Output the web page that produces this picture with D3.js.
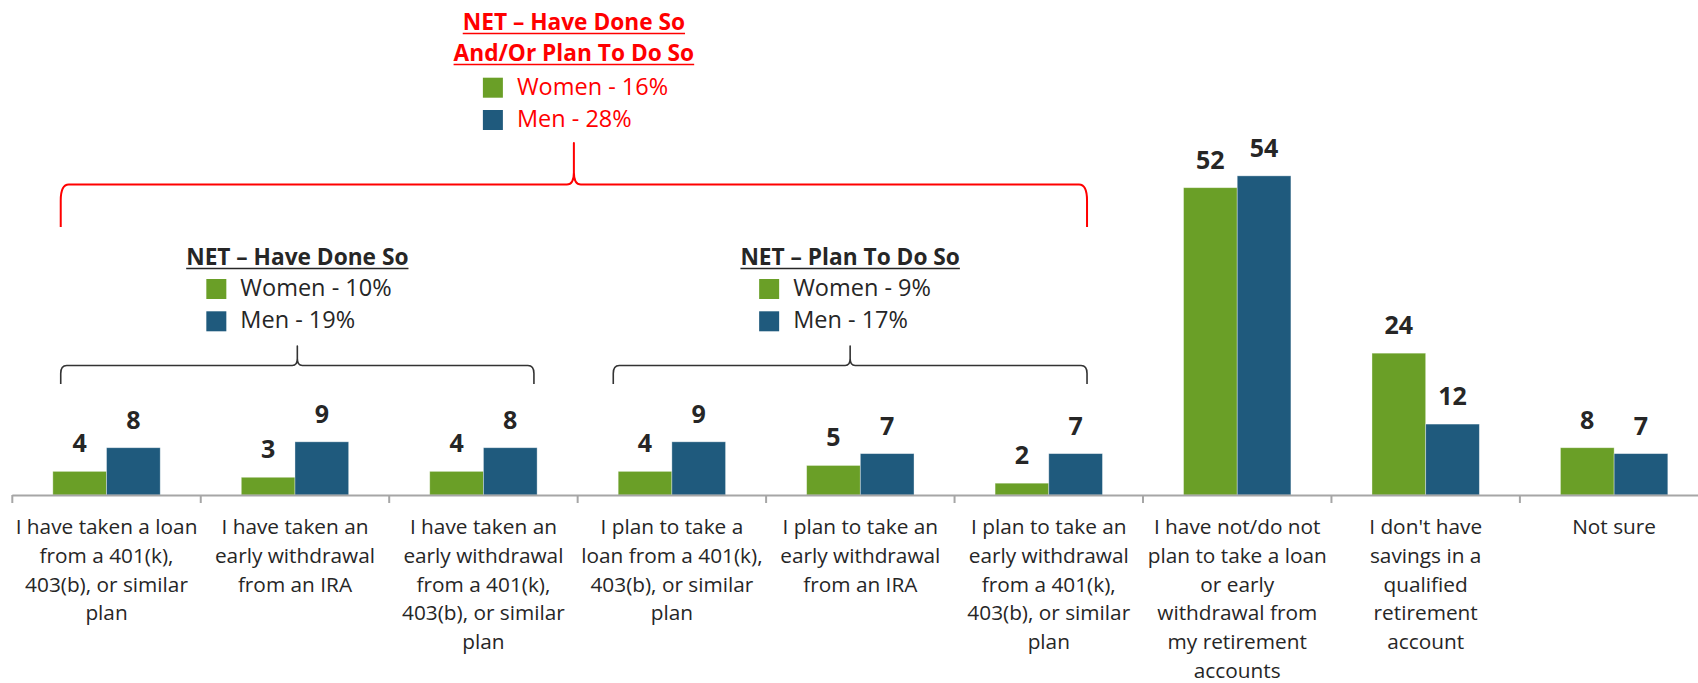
<!DOCTYPE html>
<html>
<head>
<meta charset="utf-8">
<script src="https://cdn.jsdelivr.net/npm/d3@7"></script>
<style>
  html, body { margin: 0; padding: 0; background: #fff; }
  svg { display: block; font-family: "Open Sans", "Noto Sans", sans-serif; }
</style>
</head>
<body>
<svg id="chart" width="1698" height="683"></svg>
<script>
// ---- data ----
const categoryLines = [
  ["I have taken a loan", "from a 401(k),", "403(b), or similar", "plan"],
  ["I have taken an", "early withdrawal", "from an IRA"],
  ["I have taken an", "early withdrawal", "from a 401(k),", "403(b), or similar", "plan"],
  ["I plan to take a", "loan from a 401(k),", "403(b), or similar", "plan"],
  ["I plan to take an", "early withdrawal", "from an IRA"],
  ["I plan to take an", "early withdrawal", "from a 401(k),", "403(b), or similar", "plan"],
  ["I have not/do not", "plan to take a loan", "or early", "withdrawal from", "my retirement", "accounts"],
  ["I don't have", "savings in a", "qualified", "retirement", "account"],
  ["Not sure"]
];
const categories = categoryLines.map(l => l.join(" "));
const seriesNames = ["Women", "Men"];
const women = [4, 3, 4, 4, 5, 2, 52, 24, 8];
const men   = [8, 9, 8, 9, 7, 7, 54, 12, 7];

// NET summaries shown above the bracketed groups
const netTitles = [["NET – Have Done So", "And/Or Plan To Do So"], ["NET – Have Done So"], ["NET – Plan To Do So"]];
const netWomen = [16, 10, 9];
const netMen   = [28, 19, 17];

// ---- styles ----
const colors = { Women: "#6A9F27", Men: "#1F5A7D" };
const textColor = "#262626";
const red = "#FF0000";

const svg = d3.select("#chart");
svg.append("rect").attr("width", 1698).attr("height", 683).attr("fill", "#fff");

// ---- scales ----
const x0 = 12.3, step = 188.45;
const x = d3.scaleBand().domain(categories).range([x0, x0 + step * categories.length]).padding(0);
const xs = d3.scaleBand().domain(seriesNames).range([0, x.bandwidth()]).paddingInner(0).paddingOuter(0.755);
const y = d3.scaleLinear().domain([0, 60]).range([495, 495 - 60 * 5.91]);
// category-index scale for placing brackets between groups
const xi = d3.scaleLinear().domain([0, categories.length]).range(x.range());

const rows = categories.map((c, i) => ({ cat: c, Women: women[i], Men: men[i] }));

// ---- bars ----
const groups = svg.append("g").selectAll("g").data(rows).join("g")
  .attr("transform", d => `translate(${x(d.cat)},0)`);

groups.selectAll("rect")
  .data(d => seriesNames.map(s => ({ s, v: d[s] })))
  .join("rect")
  .attr("x", d => xs(d.s))
  .attr("width", xs.bandwidth())
  .attr("y", d => y(d.v))
  .attr("height", d => y(0) - y(d.v))
  .attr("fill", d => colors[d.s])
  .attr("stroke", "rgba(255,255,255,0.45)")
  .attr("stroke-width", 0.8);

groups.selectAll("text.val")
  .data(d => seriesNames.map(s => ({ s, v: d[s] })))
  .join("text")
  .attr("class", "val")
  .attr("x", d => xs(d.s) + xs.bandwidth() / 2)
  .attr("y", d => y(d.v) - 19)
  .attr("text-anchor", "middle")
  .attr("font-size", 25)
  .attr("font-weight", 700)
  .attr("fill", textColor)
  .text(d => d.v);

// ---- category axis ----
const axis = svg.append("g");
axis.append("line")
  .attr("x1", x.range()[0]).attr("x2", x.range()[1])
  .attr("y1", y(0) + 0.5).attr("y2", y(0) + 0.5)
  .attr("stroke", "#A6A6A6").attr("stroke-width", 2);
axis.selectAll("line.tick")
  .data(categories.concat([null]))
  .join("line")
  .attr("class", "tick")
  .attr("x1", (d, i) => xi(i)).attr("x2", (d, i) => xi(i))
  .attr("y1", y(0)).attr("y2", y(0) + 8)
  .attr("stroke", "#A6A6A6").attr("stroke-width", 2);

const lab = axis.selectAll("text.cat").data(categories).join("text")
  .attr("class", "cat")
  .attr("x", d => x(d) + x.bandwidth() / 2)
  .attr("y", 534.3)
  .attr("text-anchor", "middle")
  .attr("font-size", 20.8)
  .attr("fill", textColor);
lab.each(function (d, i) {
  const t = d3.select(this);
  categoryLines[i].forEach((line, j) => {
    t.append("tspan")
      .attr("x", x(d) + x.bandwidth() / 2)
      .attr("dy", j === 0 ? 0 : 28.7)
      .text(line);
  });
});

// ---- brackets with NET legends ----
function bracePath(xa, xb, yH, yTop, yBot, rx, ry, px, py) {
  const xm = (xa + xb) / 2;
  return `M${xa},${yBot} L${xa},${yH + ry} Q${xa},${yH} ${xa + rx},${yH} ` +
         `L${xm - px},${yH} Q${xm},${yH} ${xm},${yH - py} L${xm},${yTop} ` +
         `L${xm},${yH - py} Q${xm},${yH} ${xm + px},${yH} ` +
         `L${xb - rx},${yH} Q${xb},${yH} ${xb},${yH + ry} L${xb},${yBot}`;
}

const braces = [
  { from: 0.257, to: 5.703, yH: 184.5, yTop: 143, yBot: 227, color: red, sw: 2,
    rx: 8, ry: 16, px: 7, py: 12, titleY: [30, 61], swatchY: 77.7, textColor: red, titleSize: 22.7 },
  { from: 0.257, to: 2.768, yH: 365.5, yTop: 346, yBot: 384, color: "#333", sw: 1.6,
    rx: 6, ry: 8, px: 5, py: 7, titleY: [265], swatchY: 279, textColor: textColor, titleSize: 22.7 },
  { from: 3.189, to: 5.703, yH: 365.5, yTop: 346, yBot: 384, color: "#333", sw: 1.6,
    rx: 6, ry: 8, px: 5, py: 7, titleY: [265], swatchY: 279, textColor: textColor, titleSize: 22.7 }
];

braces.forEach((b, k) => {
  const xa = xi(b.from), xb = xi(b.to), xm = (xa + xb) / 2;
  svg.append("path")
    .attr("d", bracePath(xa, xb, b.yH, b.yTop, b.yBot, b.rx, b.ry, b.px, b.py))
    .attr("fill", "none")
    .attr("stroke", b.color)
    .attr("stroke-width", b.sw)
    .attr("stroke-linejoin", "round");

  const g = svg.append("g");
  netTitles[k].forEach((t, j) => {
    const tt = g.append("text")
      .attr("x", xm).attr("y", b.titleY[j])
      .attr("text-anchor", "middle")
      .attr("font-size", b.titleSize)
      .attr("font-weight", 700)
      .attr("fill", b.textColor)
      .text(t);
    const w = tt.node().getComputedTextLength();
    g.append("line")
      .attr("x1", xm - w / 2).attr("x2", xm + w / 2)
      .attr("y1", b.titleY[j] + 3.5).attr("y2", b.titleY[j] + 3.5)
      .attr("stroke", b.textColor).attr("stroke-width", 1.6);
  });

  const entries = [["Women", netWomen[k]], ["Men", netMen[k]]];
  entries.forEach(([s, v], j) => {
    const top = b.swatchY + j * 32.3;
    g.append("rect")
      .attr("x", xm - 91).attr("y", top)
      .attr("width", 20).attr("height", 20)
      .attr("fill", colors[s]);
    g.append("text")
      .attr("x", xm - 57).attr("y", top + 17)
      .attr("font-size", 23.5)
      .attr("fill", b.textColor)
      .text(`${s} - ${v}%`);
  });
});
</script>
</body>
</html>
